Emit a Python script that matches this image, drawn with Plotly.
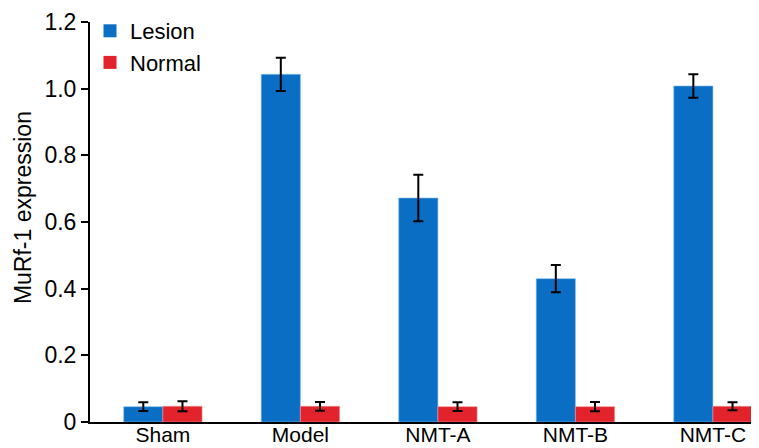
import plotly.graph_objects as go

categories = ["Sham", "Model", "NMT-A", "NMT-B", "NMT-C"]
lesion = [0.046, 1.043, 0.672, 0.430, 1.008]
lesion_err = [0.013, 0.050, 0.070, 0.041, 0.035]
normal = [0.047, 0.047, 0.046, 0.046, 0.047]
normal_err = [0.015, 0.013, 0.013, 0.014, 0.012]
y_ticks = [0, 0.2, 0.4, 0.6, 0.8, 1.0, 1.2]
y_tick_labels = ["0", "0.2", "0.4", "0.6", "0.8", "1.0", "1.2"]

BLUE = "#0A6EC4"
RED = "#E2232B"
FONT = "Liberation Sans, Arial, sans-serif"

err_style = dict(type="data", thickness=2, width=5, color="black")

fig = go.Figure()
fig.add_trace(go.Bar(x=categories, y=lesion, name="Lesion", marker_color=BLUE,
                     marker_line=dict(color="#7FC0F0", width=0.6),
                     error_y=dict(array=lesion_err, **err_style), showlegend=False))
fig.add_trace(go.Bar(x=categories, y=normal, name="Normal", marker_color=RED,
                     marker_line=dict(color="#F39095", width=0.6),
                     error_y=dict(array=normal_err, **err_style), showlegend=False))
# legend markers
fig.add_trace(go.Scatter(x=[None], y=[None], mode="markers", name="Lesion",
                         marker=dict(symbol="square", size=13, color=BLUE)))
fig.add_trace(go.Scatter(x=[None], y=[None], mode="markers", name="Normal",
                         marker=dict(symbol="square", size=13, color=RED)))

# The page body has an 8px default margin; compensate so the plot area lands right.
fig.update_layout(
    width=751, height=440,
    margin=dict(l=82, r=0, t=14, b=26),
    paper_bgcolor="white", plot_bgcolor="white",
    barmode="group", bargap=0.43, bargroupgap=0,
    font=dict(family=FONT, size=20, color="black"),
    legend=dict(x=0.0, y=1.03, xanchor="left", yanchor="top",
                font=dict(size=22), bgcolor="rgba(0,0,0,0)",
                itemwidth=30, tracegroupgap=0),
    xaxis=dict(range=[-0.53, 4.335], showline=True, linecolor="black", linewidth=2,
               ticks="", ticklen=0, ticklabelstandoff=-7, showgrid=False, zeroline=False,
               tickfont=dict(size=21), automargin=False),
    yaxis=dict(range=[0, 1.2], tickvals=y_ticks, ticktext=y_tick_labels,
               showline=True, linecolor="black", linewidth=2,
               ticks="outside", ticklen=7, tickwidth=2, tickcolor="black",
               showgrid=False, zeroline=False, tickfont=dict(size=23),
               automargin=False),
    annotations=[dict(text="MuRf-1 expression", textangle=-90, xref="paper", yref="paper",
                      x=-0.1, y=0.535, xanchor="center", yanchor="middle",
                      showarrow=False, font=dict(size=23))],
)

fig.write_html("out.html")
